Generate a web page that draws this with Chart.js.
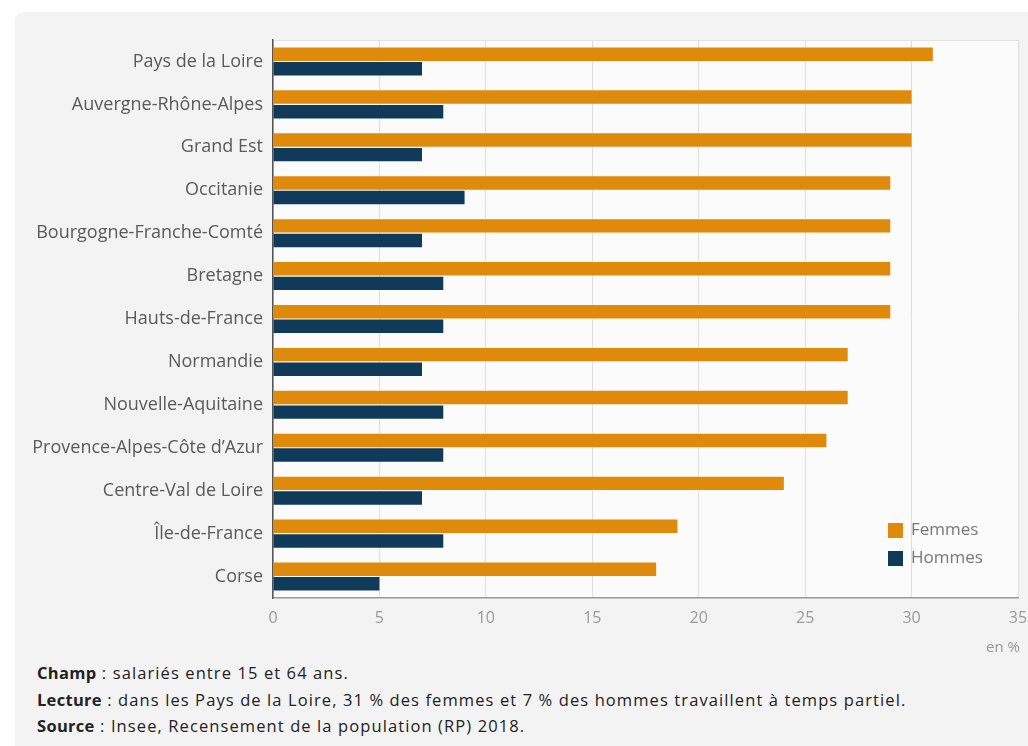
<!DOCTYPE html>
<html lang="fr">
<head>
<meta charset="utf-8">
<script src="https://cdn.jsdelivr.net/npm/chart.js@4/dist/chart.umd.min.js"></script>
<style>
  html, body { margin: 0; padding: 0; background: #ffffff; width: 1028px; height: 746px; overflow: hidden; }
  .panel { position: absolute; left: 15px; top: 12px; width: 1030px; height: 760px; background: #f3f3f3; border-radius: 9px; }
  .wrap { position: absolute; left: 0; top: 0; width: 1028px; height: 660px; }
  .notes { position: absolute; left: 37px; top: 660px; font-family: "Open Sans", sans-serif; font-size: 16.5px; letter-spacing: 1.1px; color: #222; line-height: 26.5px; white-space: nowrap; }
  .notes b { font-weight: 700; letter-spacing: 0.3px; }
</style>
</head>
<body>
<div class="panel"></div>
<div class="wrap"><canvas id="chart" width="1028" height="660"></canvas></div>
<div class="notes">
  <div><b>Champ</b> : salariés entre 15 et 64 ans.</div>
  <div><b>Lecture</b> : dans les Pays de la Loire, 31 % des femmes et 7 % des hommes travaillent à temps partiel.</div>
  <div><b>Source</b> : Insee, Recensement de la population (RP) 2018.</div>
</div>
<script>
// data
const regions = [
  'Pays de la Loire', 'Auvergne-Rhône-Alpes', 'Grand Est', 'Occitanie',
  'Bourgogne-Franche-Comté', 'Bretagne', 'Hauts-de-France', 'Normandie',
  'Nouvelle-Aquitaine', 'Provence-Alpes-Côte d\u2019Azur', 'Centre-Val de Loire',
  'Île-de-France', 'Corse'
];
const femmes = [31, 30, 30, 29, 29, 29, 29, 27, 27, 26, 24, 19, 18];
const hommes = [7, 8, 7, 9, 7, 8, 8, 7, 8, 8, 7, 8, 5];
const xTicks = [0, 5, 10, 15, 20, 25, 30, 35];
const unitLabel = 'en %';

const ORANGE = '#e08a0c';
const NAVY = '#0f3a5a';
const FONT = '"Open Sans", sans-serif';

// plot background, top border, legend in the corner, unit label
const decor = {
  id: 'decor',
  beforeDraw(chart) {
    const { ctx, chartArea: a } = chart;
    ctx.save();
    ctx.fillStyle = '#fbfbfb';
    ctx.fillRect(a.left, a.top, a.right - a.left, a.bottom - a.top);
    ctx.strokeStyle = '#e4e4e4';
    ctx.lineWidth = 1;
    ctx.beginPath();
    ctx.moveTo(a.left, a.top + 0.5);
    ctx.lineTo(a.right, a.top + 0.5);
    ctx.stroke();
    ctx.restore();
  },
  afterDraw(chart) {
    const { ctx } = chart;
    ctx.save();
    ctx.font = '17px ' + FONT;
    ctx.textBaseline = 'middle';
    chart.data.datasets.forEach((ds, i) => {
      const y = 530 + i * 28;
      ctx.fillStyle = ds.backgroundColor;
      ctx.fillRect(888, y - 7, 15, 15);
      ctx.fillStyle = '#777';
      ctx.textAlign = 'left';
      ctx.fillText(ds.label, 911, y);
    });
    ctx.font = '15px ' + FONT;
    ctx.fillStyle = '#999';
    ctx.fillText(unitLabel, 986, 648);
    ctx.restore();
  }
};

new Chart(document.getElementById('chart'), {
  type: 'bar',
  data: {
    labels: regions,
    datasets: [
      { label: 'Femmes', data: femmes, backgroundColor: ORANGE },
      { label: 'Hommes', data: hommes, backgroundColor: NAVY }
    ]
  },
  options: {
    indexAxis: 'y',
    responsive: false,
    animation: false,
    datasets: { bar: { categoryPercentage: 0.68, barPercentage: 0.92 } },
    layout: { padding: { top: 40, right: 10, left: 0, bottom: 0 } },
    plugins: { legend: { display: false }, tooltip: { enabled: false } },
    scales: {
      x: {
        min: 0,
        max: 35,
        afterBuildTicks: s => { s.ticks = xTicks.map(v => ({ value: v })); },
        afterFit: s => { s.height = 62; s.paddingRight = 0; s.paddingLeft = 0; },
        grid: { color: '#dedede', drawTicks: false },
        border: { display: true, color: '#9a9a9a', width: 1.5 },
        ticks: { color: '#9a9a9a', padding: 11, font: { family: FONT, size: 16 } }
      },
      y: {
        afterFit: s => { s.width = 273; },
        grid: { display: false, drawTicks: false },
        border: { display: true, color: '#555', width: 1.5 },
        ticks: { color: '#5a5a5a', padding: 10, font: { family: FONT, size: 18 } }
      }
    }
  },
  plugins: [decor]
});
</script>
</body>
</html>
